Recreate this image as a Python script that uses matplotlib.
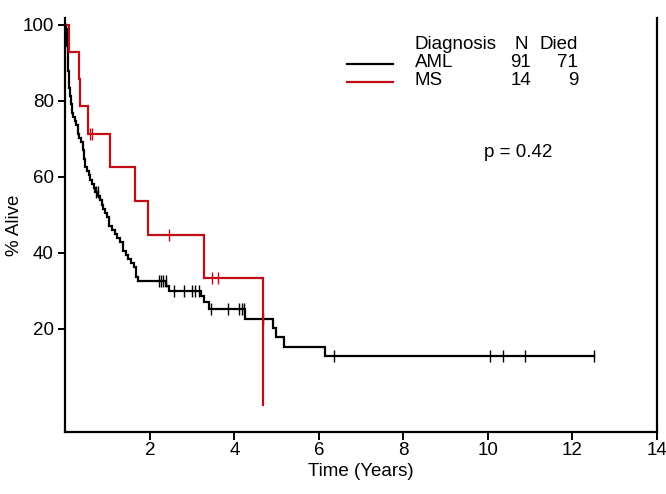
import matplotlib
matplotlib.use("Agg")
import matplotlib.pyplot as plt
import numpy as np

plt.rcParams['font.family'] = ['Liberation Sans', 'DejaVu Sans']

# AML: step times (years) and % alive after each step
aml_t = [0, 0.02, 0.03, 0.04, 0.05, 0.06, 0.07, 0.08, 0.09, 0.11, 0.13, 0.16, 0.19,
         0.22, 0.26, 0.29, 0.33, 0.38, 0.42, 0.44, 0.46, 0.50, 0.55, 0.58, 0.62,
         0.67, 0.70, 0.78, 0.82, 0.86, 0.90, 0.94, 0.98, 1.04, 1.10, 1.17, 1.23,
         1.29, 1.36, 1.43, 1.49, 1.56, 1.62, 1.66, 1.72, 2.39, 2.45, 3.22, 3.28,
         3.39, 4.26, 4.91, 4.98, 5.18, 6.15]
aml_s = [100, 98.9, 96.7, 94.5, 92.3, 90.1, 87.9, 85.7, 83.5, 81.3, 79.1, 76.9, 75.8,
         74.7, 73.6, 71.4, 70.3, 69.2, 67.0, 64.8, 62.6, 61.5, 60.4, 59.3, 58.2,
         57.1, 56.0, 54.9, 53.8, 52.7, 51.6, 50.5, 49.4, 47.2, 46.1, 45.0, 43.9,
         42.8, 40.6, 39.5, 38.4, 37.3, 36.2, 33.8, 32.5, 31.2, 30.1, 28.6, 27.0,
         25.3, 22.6, 20.2, 17.8, 15.2, 12.8]
aml_cens = [0.72, 0.76, 2.21, 2.26, 2.32, 2.37, 2.56, 2.80, 2.99, 3.07, 3.17,
            3.45, 3.84, 4.11, 4.17, 4.23, 4.68, 6.35, 10.05, 10.35, 10.87, 12.5]

# MS
ms_t = [0, 0.087, 0.33, 0.35, 0.53, 1.05, 1.65, 1.95, 3.29, 4.68]
ms_s = [100, 92.9, 85.7, 78.6, 71.4, 62.5, 53.6, 44.6, 33.5, 0]
ms_cens = [0.59, 0.62, 2.45, 3.48, 3.62]

groups = ["AML", "MS"]
n_pat = [91, 14]
n_died = [71, 9]
p_value = 0.42

colors = ["black", "#c00c14"]
FS = 13.5


def surv_at(t_steps, s_steps, tc):
    idx = np.searchsorted(t_steps, tc, side='right') - 1
    return np.array(s_steps)[idx]


fig = plt.figure(figsize=(6.66, 4.94), dpi=100)
ax = fig.add_axes([65/666, 62/494, 592/666, 414/494])

for (t, s, c, col, end) in [(aml_t, aml_s, aml_cens, colors[0], 12.5),
                            (ms_t, ms_s, ms_cens, colors[1], None)]:
    tt = list(t)
    ss = list(s)
    if end is not None:
        tt.append(end)
        ss.append(ss[-1])
    ax.step(tt, ss, where='post', color=col, lw=1.6, solid_joinstyle='miter')
    ax.plot(c, surv_at(t, s, c), ls='none', marker='|', ms=8, mew=1.0, color=col)

ax.set_xlim(-0.01, 14)
ax.set_ylim(-7.1, 101.8)
ax.set_xticks(range(2, 15, 2))
ax.set_yticks([20, 40, 60, 80, 100])
ax.tick_params(axis='both', labelsize=FS, width=1.4, direction='out')
ax.tick_params(axis='x', length=6, pad=1)
ax.tick_params(axis='y', length=5, pad=3)
for sp in ['left', 'bottom', 'right']:
    ax.spines[sp].set_linewidth(1.6)
ax.spines['top'].set_visible(False)

ax.set_xlabel("Time (Years)", fontsize=FS, labelpad=3)
ax.set_ylabel("% Alive", fontsize=FS)
ax.yaxis.set_label_coords(-0.071, 0.5)

# legend table
tr = ax.transAxes
ax.text(0.591, 0.937, "Diagnosis", transform=tr, fontsize=FS, va='center')
ax.text(0.770, 0.937, "N", transform=tr, fontsize=FS, va='center', ha='center')
ax.text(0.802, 0.937, "Died", transform=tr, fontsize=FS, va='center')
for i, y in enumerate([0.893, 0.850]):
    ax.plot([0.476, 0.554], [y - 0.004, y - 0.004], transform=tr, color=colors[i], lw=1.6)
    ax.text(0.591, y, groups[i], transform=tr, fontsize=FS, va='center')
    ax.text(0.770, y, str(n_pat[i]), transform=tr, fontsize=FS, va='center', ha='center')
    ax.text(0.867, y, str(n_died[i]), transform=tr, fontsize=FS, va='center', ha='right')
ax.text(0.708, 0.676, f"p = {p_value}", transform=tr, fontsize=FS, va='center')

fig.savefig("out.png", dpi=100)
